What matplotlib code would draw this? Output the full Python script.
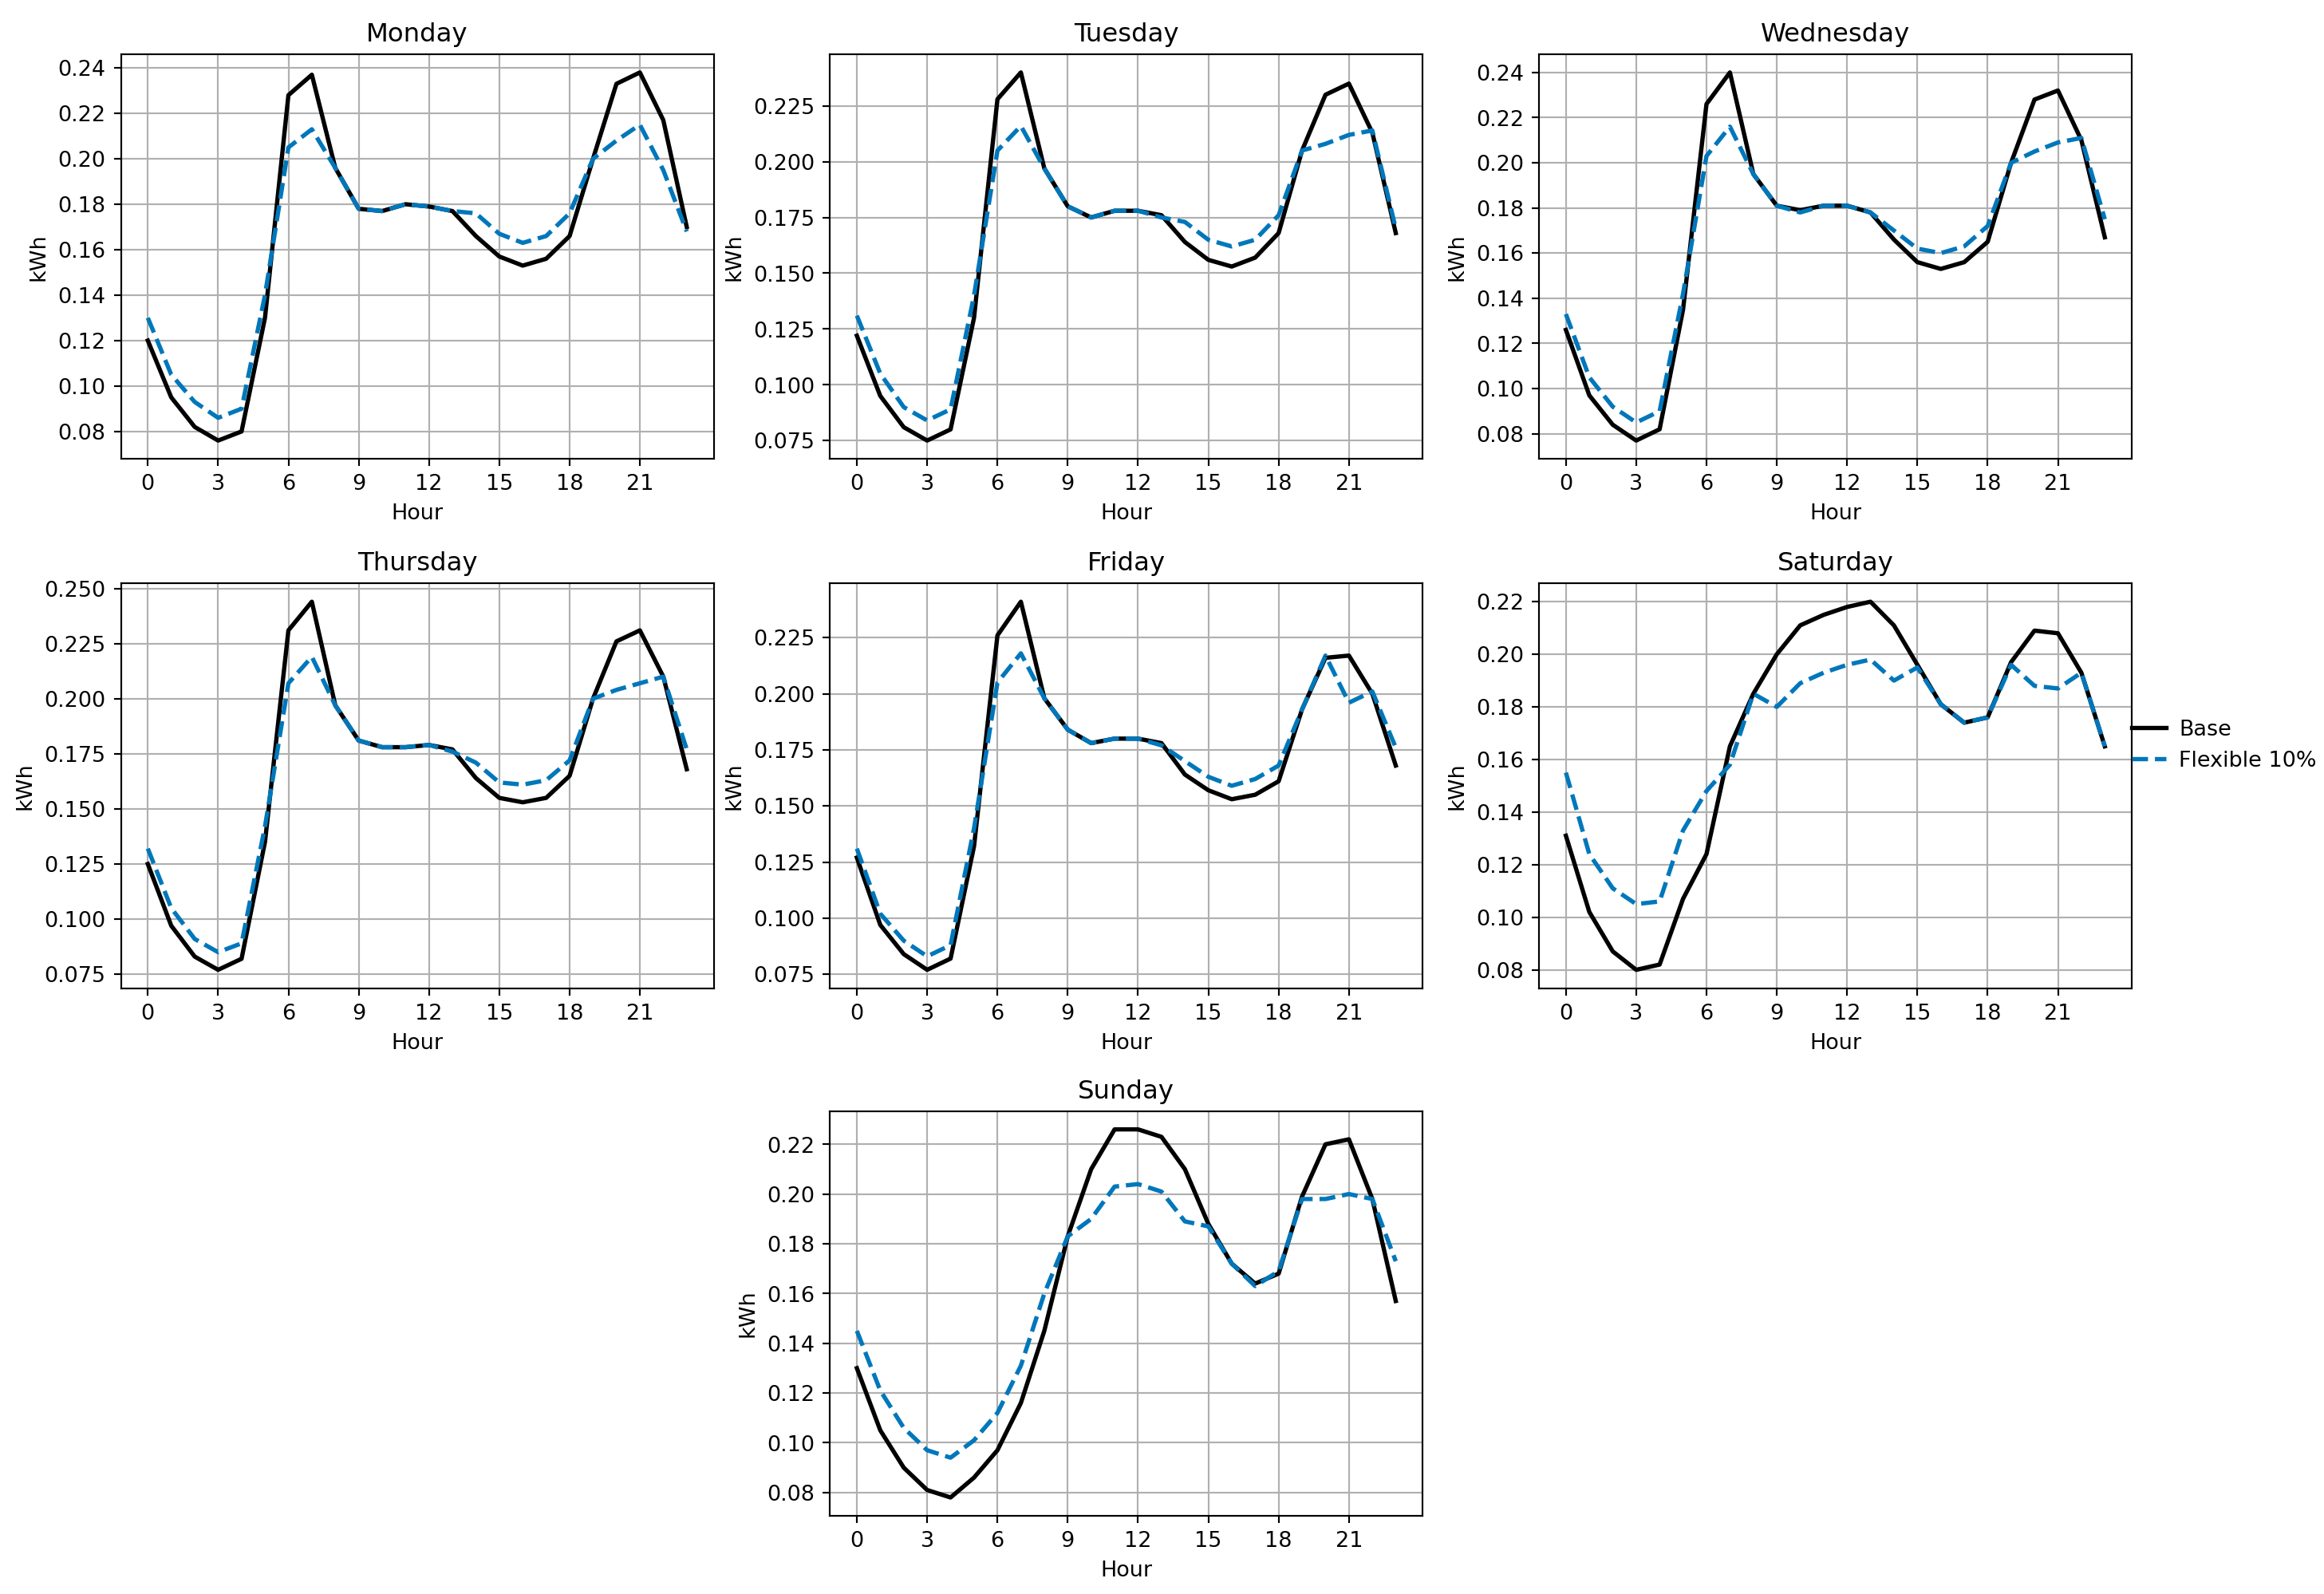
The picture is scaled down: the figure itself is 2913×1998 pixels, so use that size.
import numpy as np
import matplotlib.pyplot as plt

hours = np.arange(24)
days = ["Monday", "Tuesday", "Wednesday", "Thursday", "Friday", "Saturday", "Sunday"]

base = {
    "Monday": [.120, .095, .082, .076, .080, .130, .228, .237, .196, .178, .177, .180,
               .179, .177, .166, .157, .153, .156, .166, .200, .233, .238, .217, .170],
    "Tuesday": [.122, .095, .081, .075, .080, .130, .228, .240, .197, .180, .175, .178,
                .178, .176, .164, .156, .153, .157, .168, .205, .230, .235, .213, .168],
    "Wednesday": [.126, .097, .084, .077, .082, .135, .226, .240, .195, .181, .179, .181,
                  .181, .178, .166, .156, .153, .156, .165, .200, .228, .232, .210, .167],
    "Thursday": [.125, .097, .083, .077, .082, .135, .231, .244, .197, .181, .178, .178,
                 .179, .177, .164, .155, .153, .155, .165, .200, .226, .231, .210, .168],
    "Friday": [.127, .097, .084, .077, .082, .132, .226, .241, .198, .184, .178, .180,
               .180, .178, .164, .157, .153, .155, .161, .193, .216, .217, .200, .168],
    "Saturday": [.131, .102, .087, .080, .082, .107, .124, .165, .185, .200, .211, .215,
                 .218, .220, .211, .196, .181, .174, .176, .197, .209, .208, .193, .165],
    "Sunday": [.130, .105, .090, .081, .078, .086, .097, .116, .145, .183, .210, .226,
               .226, .223, .210, .188, .172, .164, .168, .199, .220, .222, .198, .157],
}

flexible = {
    "Monday": [.130, .105, .093, .086, .090, .140, .205, .213, .196, .178, .177, .180,
               .179, .177, .176, .167, .163, .166, .176, .200, .208, .215, .195, .168],
    "Tuesday": [.131, .105, .090, .084, .089, .140, .205, .216, .197, .180, .175, .178,
                .178, .175, .173, .165, .162, .165, .176, .205, .208, .212, .214, .170],
    "Wednesday": [.133, .105, .092, .085, .090, .142, .203, .216, .195, .181, .178, .181,
                  .181, .178, .170, .162, .160, .163, .172, .200, .205, .209, .211, .175],
    "Thursday": [.132, .105, .091, .085, .089, .142, .207, .219, .197, .181, .178, .178,
                 .179, .176, .171, .162, .161, .163, .172, .200, .204, .207, .210, .177],
    "Friday": [.131, .102, .090, .083, .088, .140, .205, .218, .198, .184, .178, .180,
               .180, .177, .170, .163, .159, .162, .168, .193, .217, .196, .201, .176],
    "Saturday": [.155, .124, .111, .105, .106, .133, .148, .158, .185, .180, .189, .193,
                 .196, .198, .190, .195, .181, .174, .176, .196, .188, .187, .193, .165],
    "Sunday": [.145, .121, .106, .097, .094, .101, .112, .131, .160, .183, .190, .203,
               .204, .201, .189, .187, .172, .163, .169, .198, .198, .200, .198, .173],
}

fig = plt.figure(figsize=(15.02, 10.3), dpi=194)

cols = [0.052, 0.357, 0.662]
rows = [0.712, 0.380, 0.049]
w, h = 0.255, 0.254
boxes = [(cols[i % 3], rows[i // 3]) for i in range(6)] + [(cols[1], rows[2])]

for day, (x0, y0) in zip(days, boxes):
    ax = fig.add_axes([x0, y0, w, h])
    ax.plot(hours, base[day], color="black", lw=2, label="Base")
    ax.plot(hours, flexible[day], color="#0077bb", lw=2, ls="--", label="Flexible 10%")
    ax.set_title(day)
    ax.set_xlabel("Hour")
    ax.set_ylabel("kWh")
    ax.set_xticks(range(0, 24, 3))
    ax.grid(True)
    if day == "Saturday":
        ax.legend(loc="center left", bbox_to_anchor=(1.0, 0.6), frameon=False,
                  borderaxespad=0, borderpad=0, handlelength=1.6, handletextpad=0.6)

fig.savefig("out.png")
